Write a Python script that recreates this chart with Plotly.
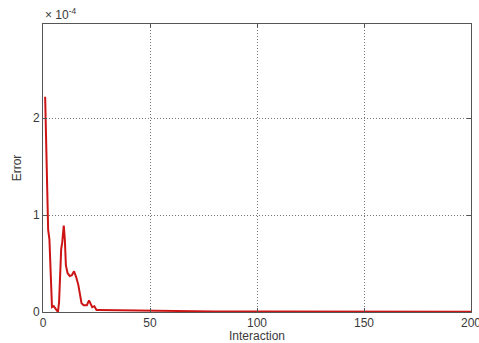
import plotly.graph_objects as go

# Iteration numbers and error values (in units of 1e-4)
iterations = [1, 1.3, 1.6, 2, 2.4, 3, 3.5, 3.9, 4.2, 5, 6, 7, 7.5, 8, 8.5, 9, 9.7,
              10.2, 10.7, 11.5, 12.5, 13.5, 14.5, 15.5, 16.5, 17.3, 18, 19, 20.5,
              21.5, 22.2, 23, 24, 25, 26, 40, 50, 60, 80, 100, 150, 200]
error_e4 = [2.22, 1.95, 1.5, 1.1, 0.85, 0.75, 0.5, 0.15, 0.05, 0.06, 0.03, 0.0, 0.1,
            0.45, 0.65, 0.72, 0.89, 0.75, 0.48, 0.4, 0.37, 0.38, 0.42, 0.36, 0.28,
            0.18, 0.09, 0.07, 0.07, 0.12, 0.08, 0.05, 0.06, 0.02, 0.02, 0.015,
            0.012, 0.008, 0.006, 0.004, 0.003, 0.002]
error = [v * 1e-4 for v in error_e4]

x_ticks = [0, 50, 100, 150, 200]
y_ticks = [0, 1e-4, 2e-4]
y_ticklabels = ["0", "1", "2"]

font = dict(family="Liberation Sans, Arial, sans-serif", size=12, color="#3a3a3a")

fig = go.Figure()
fig.add_trace(go.Scatter(x=iterations, y=error, mode="lines",
                         line=dict(color="#cc1414", width=2), showlegend=False))

axis_common = dict(showline=True, linecolor="#555555", linewidth=1, mirror="ticks",
                   ticks="inside", ticklen=4, tickcolor="#555555",
                   showgrid=True, gridcolor="#777777", griddash="1px,2px", gridwidth=1,
                   zeroline=False, tickfont=font, ticklabeloverflow="allow",
                   automargin=False)

fig.update_layout(
    width=479, height=343,
    margin=dict(l=43, r=8, t=24, b=31),
    paper_bgcolor="white", plot_bgcolor="white",
    font=font,
    xaxis=dict(range=[0, 200], tickvals=x_ticks,
               title=dict(text="Interaction", font=font, standoff=1),
               **axis_common),
    yaxis=dict(range=[0, 2.97e-4], tickvals=y_ticks, ticktext=y_ticklabels,
               title=dict(text="Error", font=font, standoff=8),
               **axis_common),
    annotations=[dict(text="× 10<sup>-4</sup>", xref="paper", yref="paper",
                      x=0, y=1, xanchor="left", yanchor="bottom",
                      showarrow=False, font=font, yshift=0)],
)

fig.write_html("out.html")
